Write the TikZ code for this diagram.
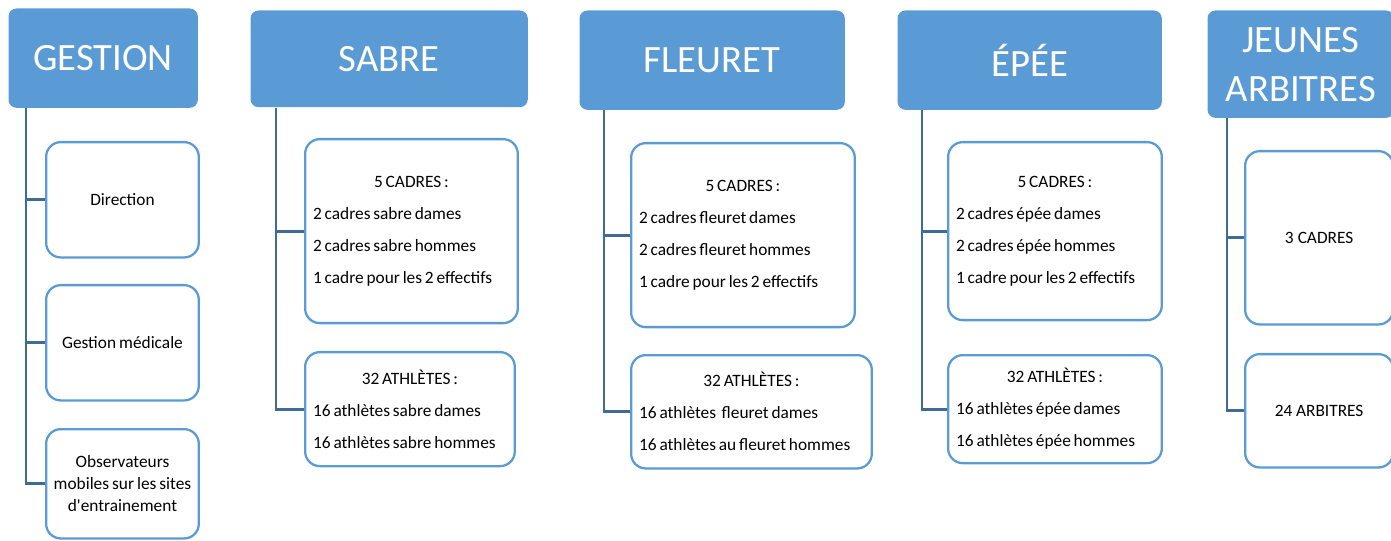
\documentclass[tikz,border=0pt]{standalone}
\usepackage{fontspec}
\setmainfont{Carlito}
\definecolor{bleuentete}{RGB}{91,155,213}
\definecolor{bleutrait}{RGB}{62,108,150}
\newcommand{\serre}{\spaceskip=2.1pt plus 1pt\relax}

\tikzset{every picture/.style={line width=0.75pt}}
\tikzset{
  titre/.style={fill=bleuentete, rounded corners=6pt, anchor=north west, inner sep=0pt,
    align=center, text=white, font=\fontsize{29}{36.75}\selectfont},
  bloc/.style={draw=bleuentete, line width=1.7pt, fill=white, rounded corners=11pt,
    anchor=north west, inner xsep=6pt, inner ysep=2pt, align=left,
    font=\fontsize{13}{24}\selectfont, execute at begin node={\serre}},
  lien/.style={draw=bleutrait, line width=2.2pt},
}

\begin{document}
\begin{tikzpicture}[x=0.75pt,y=0.75pt,yscale=-1,xscale=1]
\useasboundingbox (0,0) rectangle (1391,541);
\clip (0,0) rectangle (1391,541);

%Headers
\node [titre, text width=142pt, minimum height=74.5pt] (gestion) at (8,8) {GESTION};
\node [titre, text width=208pt, minimum height=72.5pt] (sabre) at (250,10) {SABRE};
\node [titre, text width=199pt, minimum height=74.5pt] (fleuret) at (579,10) {FLEURET};
\node [titre, text width=198.25pt, minimum height=74.5pt] (epee) at (897,10) {ÉPÉE};
\node [titre, text width=140pt, minimum height=80.5pt] (jeunes) at (1207,10) {JEUNES\\ARBITRES};

%Gestion
\node [bloc, align=center, text width=102.5pt, minimum height=86.5pt] (direction) at (45,141) {Direction};
\node [bloc, align=center, text width=102.5pt, minimum height=86.5pt] (medicale) at (45,284) {Gestion médicale};
\node [bloc, align=center, inner xsep=2pt, text width=110.5pt, minimum height=82pt, font=\fontsize{13}{16.5}\selectfont] (observateurs) at (45,428) {Observateurs\\mobiles sur les sites\\d\textquotesingle entrainement};

%Sabre
\node [bloc, text width=147.5pt, minimum height=138pt] (sabre-cadres) at (304,138) {{\centering 5 CADRES :\par}2 cadres sabre dames\\2 cadres sabre hommes\\1 cadre pour les 2 effectifs};
\node [bloc, text width=145.25pt, minimum height=85.5pt] (sabre-athletes) at (304,351) {{\centering 32 ATHLÈTES :\par}16 athlètes sabre dames\\16 athlètes sabre hommes};

%Fleuret
\node [bloc, text width=155.75pt, minimum height=138pt] (fleuret-cadres) at (630,142) {{\centering 5 CADRES :\par}2 cadres fleuret dames\\2 cadres fleuret hommes\\1 cadre pour les 2 effectifs};
\node [bloc, text width=168.5pt, minimum height=85pt] (fleuret-athletes) at (630,354) {{\centering 32 ATHLÈTES :\par}16 athlètes~ fleuret dames\\16 athlètes au fleuret hommes};

%Epee
\node [bloc, text width=148.25pt, minimum height=133.5pt] (epee-cadres) at (947,141) {{\centering 5 CADRES :\par}2 cadres épée dames\\2 cadres épée hommes\\1 cadre pour les 2 effectifs};
\node [bloc, text width=148.25pt, minimum height=81pt] (epee-athletes) at (947,354) {{\centering 32 ATHLÈTES :\par}16 athlètes épée dames\\16 athlètes épée hommes};

%Jeunes arbitres
\node [bloc, align=center, text width=99pt, minimum height=130pt] (jeunes-cadres) at (1244,150) {3 CADRES};
\node [bloc, align=center, text width=99pt, minimum height=85pt] (jeunes-arbitres) at (1244,353) {24 ARBITRES};

%Straight Lines
\coordinate (t-gestion) at ([xshift=13.5pt]gestion.south west);
\coordinate (t-sabre) at ([xshift=19.5pt]sabre.south west);
\coordinate (t-fleuret) at ([xshift=18.75pt]fleuret.south west);
\coordinate (t-epee) at ([xshift=18.75pt]epee.south west);
\coordinate (t-jeunes) at ([xshift=15pt]jeunes.south west);

\draw [lien] (t-gestion) |- (direction.west);
\draw [lien] (t-gestion) |- (medicale.west);
\draw [lien] (t-gestion) |- (observateurs.west);
\draw [lien] (t-sabre) |- (sabre-cadres.west);
\draw [lien] (t-sabre) |- (sabre-athletes.west);
\draw [lien] (t-fleuret) |- (fleuret-cadres.west);
\draw [lien] (t-fleuret) |- (fleuret-athletes.west);
\draw [lien] (t-epee) |- (epee-cadres.west);
\draw [lien] (t-epee) |- (epee-athletes.west);
\draw [lien] (t-jeunes) |- (jeunes-cadres.west);
\draw [lien] (t-jeunes) |- (jeunes-arbitres.west);

\end{tikzpicture}
\end{document}
